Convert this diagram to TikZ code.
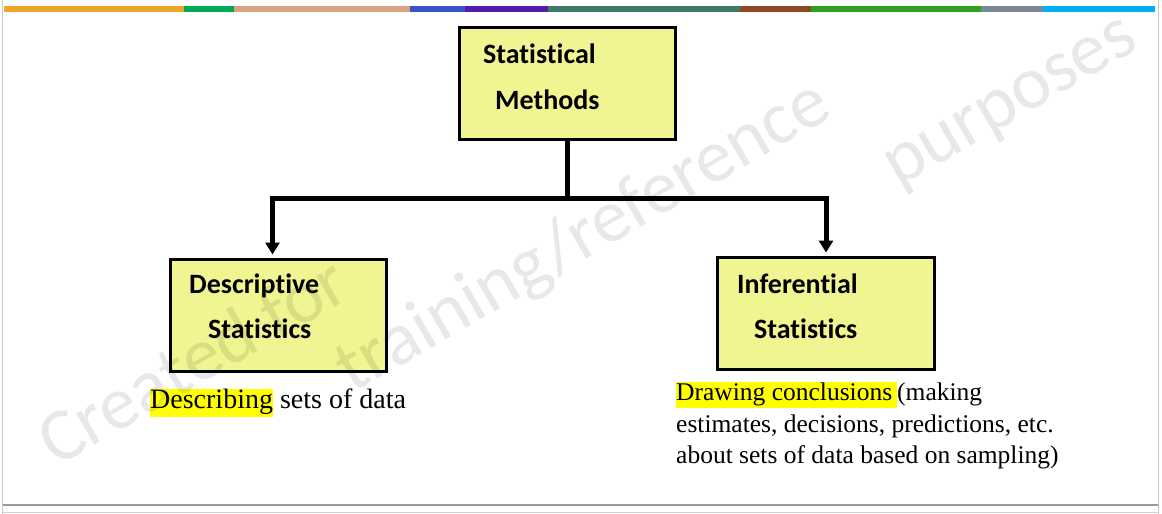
\documentclass[tikz,border=0pt]{standalone}
\usepackage{fontspec}
\setmainfont{Liberation Serif}
\newfontfamily\carlito[Ligatures=NoCommon]{Carlito}
\usetikzlibrary{arrows.meta}
\definecolor{boxfill}{RGB}{240,245,145}
\definecolor{hlyellow}{RGB}{255,255,0}
\definecolor{c1}{RGB}{240,165,42}
\definecolor{c2}{RGB}{0,170,85}
\definecolor{c3}{RGB}{218,162,128}
\definecolor{c4}{RGB}{62,82,200}
\definecolor{c5}{RGB}{82,30,168}
\definecolor{c6}{RGB}{62,122,104}
\definecolor{c7}{RGB}{140,72,32}
\definecolor{c8}{RGB}{44,162,26}
\definecolor{c9}{RGB}{122,136,150}
\definecolor{c10}{RGB}{0,176,238}
\setlength{\fboxsep}{0pt}
\begin{document}
\begin{tikzpicture}[x=1pt,y=-1pt,
  box/.style={draw=black, line width=3pt, fill=boxfill, minimum width=216pt, minimum height=112pt, anchor=north west, inner sep=0pt, outer sep=0pt},
  lbl/.style={font=\carlito\bfseries\fontsize{28}{34}\selectfont, anchor=base west, inner sep=0pt},
  conn/.style={line width=5pt},
  arr/.style={line width=5pt, -{Triangle[width=14pt,length=12pt]}},
  descl/.style={font=\fontsize{28}{34}\selectfont, anchor=base west, inner sep=0pt},
  descr/.style={font=\fontsize{25.5}{31.5}\selectfont, anchor=base west, inner sep=0pt},
  wm/.style={font=\carlito\fontsize{75}{75}\selectfont, text=black, text opacity=0.09, anchor=base west, rotate=30, inner sep=0pt}]
\fill[white] (0,0) rectangle (1162,514);
\useasboundingbox (0,0) rectangle (1162,514);
% frame
\draw[black!22, line width=1pt] (2.5,0) -- (2.5,514);
\draw[black!22, line width=1pt] (1158,0) -- (1158,514);
\draw[black!40, line width=2pt] (3,505) -- (1158,505);
\draw[black!18, line width=1pt] (3,512) -- (1158,512);
% top colour bar
\fill[c1] (4,6) rectangle (184,12);
\fill[c2] (184,6) rectangle (234,12);
\fill[c3] (234,6) rectangle (410,12);
\fill[c4] (410,6) rectangle (465,12);
\fill[c5] (465,6) rectangle (548,12);
\fill[c6] (548,6) rectangle (740,12);
\fill[c7] (740,6) rectangle (811,12);
\fill[c8] (811,6) rectangle (981,12);
\fill[c9] (981,6) rectangle (1043,12);
\fill[c10] (1043,6) rectangle (1155,12);
% boxes
\node[box] (sm) at (459.5,27.5) {};
\node[box] (ds) at (170.5,259.5) {};
\node[box, minimum width=217pt] (inf) at (717.5,257.5) {};
\node[lbl] (sm1) at (483,63) {Statistical};
\node[lbl] (sm2) at (495,109) {Methods};
\node[lbl] (ds1) at (189,293) {Descriptive};
\node[lbl] (ds2) at (208,338) {Statistics};
\node[lbl] (in1) at (737,293) {Inferential};
\node[lbl] (in2) at (754,338) {Statistics};
% connectors
\coordinate (j) at (567.5,198);
\draw[conn] (sm.south) -- (j);
\draw[arr] (j) -| ([xshift=-6pt,yshift=5pt]ds.north);
\draw[arr] (j) -| ([yshift=5pt]inf.north);
% descriptions
\node[descl] (dd) at (150,408) {\colorbox{hlyellow}{\rule[-9pt]{0pt}{28pt}Describing} sets of data};
\node[descr] (ic1) at (676,400) {\colorbox{hlyellow}{\rule[-8pt]{0pt}{26pt}Drawing conclusions\hspace{5pt}}(making};
\node[descr] (ic2) at (676,432) {estimates, decisions, predictions, etc.};
\node[descr] (ic3) at (676,463) {about sets of data based on sampling)};
% watermark (on top, faint)
\node[wm] (w1) at (56,468) {Created for};
\node[wm] (w2) at (352,394) {training/reference};
\node[wm] (w3) at (898,188) {purposes};
\end{tikzpicture}
\end{document}
